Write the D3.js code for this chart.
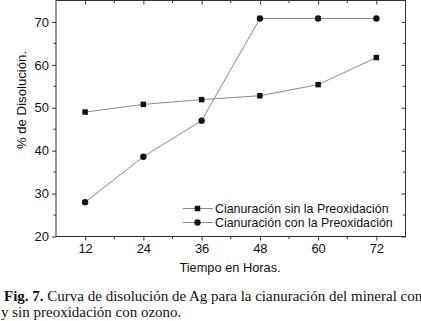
<!DOCTYPE html>
<html>
<head>
<meta charset="utf-8">
<script src="https://cdn.jsdelivr.net/npm/d3@7"></script>
<style>
html,body{margin:0;padding:0;background:#fff;}
svg{display:block;}
</style>
</head>
<body>
<svg id="chart" width="421" height="321"></svg>
<script>
const hours = [12, 24, 36, 48, 60, 72];
const sinPreox = [49.0, 50.8, 51.9, 52.8, 55.4, 61.7];
const conPreox = [28.0, 38.6, 47.0, 70.8, 70.8, 70.8];
const xTicks = [12, 24, 36, 48, 60, 72];
const yTicks = [20, 30, 40, 50, 60, 70];
const seriesNames = ["Cianuración sin la Preoxidación", "Cianuración con la Preoxidación"];
const xTitle = "Tiempo en Horas.";
const yTitle = "% de Disolución.";

const svg = d3.select("#chart");
const L = 56, R = 405.5, T = 0.5, B = 236.5;
const x = d3.scaleLinear().domain([6, 78]).range([L, R]);
const y = d3.scaleLinear().domain([20, 75]).range([B, T]);
const font = "'Liberation Sans', Arial, sans-serif";

const xMinor = d3.range(18, 78, 12);
const yMinor = d3.range(25, 75, 10);

// frame
svg.append("rect").attr("x", L).attr("y", T).attr("width", R - L).attr("height", B - T)
  .attr("fill", "none").attr("stroke", "#333").attr("stroke-width", 1);

const tickCol = "#333";
// bottom axis
const gB = svg.append("g").attr("transform", `translate(0,${B})`)
  .call(d3.axisBottom(x).tickValues(xTicks).tickSize(4).tickPadding(3).tickFormat(d3.format("d")));
gB.select(".domain").remove();
gB.selectAll("text").attr("font-family", font).attr("font-size", 13).attr("fill", "#111");
gB.selectAll("line").attr("stroke", tickCol);
svg.append("g").selectAll("line").data(xMinor).join("line")
  .attr("x1", d => x(d)).attr("x2", d => x(d)).attr("y1", B).attr("y2", B + 2.5).attr("stroke", tickCol);

// left axis
const gL = svg.append("g").attr("transform", `translate(${L},0)`)
  .call(d3.axisLeft(y).tickValues(yTicks).tickSize(4).tickPadding(3).tickFormat(d3.format("d")));
gL.select(".domain").remove();
gL.selectAll("text").attr("font-family", font).attr("font-size", 13).attr("fill", "#111");
gL.selectAll("line").attr("stroke", tickCol);
svg.append("g").selectAll("line").data(yMinor).join("line")
  .attr("x1", L - 2.5).attr("x2", L).attr("y1", d => y(d)).attr("y2", d => y(d)).attr("stroke", tickCol);

// top axis (inward ticks)
const gT = svg.append("g").attr("transform", `translate(0,${T})`)
  .call(d3.axisTop(x).tickValues(xTicks).tickSize(-4).tickFormat(""));
gT.select(".domain").remove();
gT.selectAll("line").attr("stroke", tickCol);
svg.append("g").selectAll("line").data(xMinor).join("line")
  .attr("x1", d => x(d)).attr("x2", d => x(d)).attr("y1", T).attr("y2", T + 2.5).attr("stroke", tickCol);

// right axis (inward ticks)
const gR = svg.append("g").attr("transform", `translate(${R},0)`)
  .call(d3.axisRight(y).tickValues(yTicks).tickSize(-4).tickFormat(""));
gR.select(".domain").remove();
gR.selectAll("line").attr("stroke", tickCol);
svg.append("g").selectAll("line").data(yMinor).join("line")
  .attr("x1", R - 2.5).attr("x2", R).attr("y1", d => y(d)).attr("y2", d => y(d)).attr("stroke", tickCol);

// titles
svg.append("text").attr("x", 230).attr("y", 272).attr("text-anchor", "middle")
  .attr("font-family", font).attr("font-size", 12.8).attr("fill", "#111").text(xTitle);
svg.append("text").attr("transform", "translate(26,100) rotate(-90)").attr("text-anchor", "middle")
  .attr("font-family", font).attr("font-size", 13.2).attr("fill", "#111").text(yTitle);

// lines
const line = d3.line().x((d, i) => x(hours[i])).y(d => y(d));
[sinPreox, conPreox].forEach(s => {
  svg.append("path").attr("d", line(s)).attr("fill", "none").attr("stroke", "#8a8a8a").attr("stroke-width", 1);
});

// markers
const sq = 5.5;
svg.append("g").selectAll("rect").data(sinPreox).join("rect")
  .attr("x", (d, i) => x(hours[i]) - sq / 2).attr("y", d => y(d) - sq / 2)
  .attr("width", sq).attr("height", sq).attr("fill", "#111");
svg.append("g").selectAll("circle").data(conPreox).join("circle")
  .attr("cx", (d, i) => x(hours[i])).attr("cy", d => y(d)).attr("r", 3.2).attr("fill", "#111");

// legend
const legY = [208.5, 222.5];
legY.forEach((ly, k) => {
  svg.append("line").attr("x1", 183).attr("x2", 213).attr("y1", ly).attr("y2", ly)
    .attr("stroke", "#8a8a8a").attr("stroke-width", 1);
  if (k === 0) {
    svg.append("rect").attr("x", 197.5 - sq / 2).attr("y", ly - sq / 2).attr("width", sq).attr("height", sq).attr("fill", "#111");
  } else {
    svg.append("circle").attr("cx", 197.5).attr("cy", ly).attr("r", 3.2).attr("fill", "#111");
  }
  svg.append("text").attr("x", 215).attr("y", ly + 4.4).attr("font-family", font).attr("font-size", 12.4)
    .attr("fill", "#111").text(seriesNames[k]);
});

// caption
const serif = "'Liberation Serif', 'Times New Roman', serif";
const cap1 = svg.append("text").attr("x", 4).attr("y", 301).attr("font-family", serif).attr("font-size", 15).attr("fill", "#111");
cap1.append("tspan").attr("font-weight", "bold").text("Fig. 7.");
cap1.append("tspan").text(" Curva de disolución de Ag para la cianuración del mineral con");
svg.append("text").attr("x", 1).attr("y", 316.5).attr("font-family", serif).attr("font-size", 15).attr("fill", "#111")
  .text("y sin preoxidación con ozono.");
</script>
</body>
</html>
